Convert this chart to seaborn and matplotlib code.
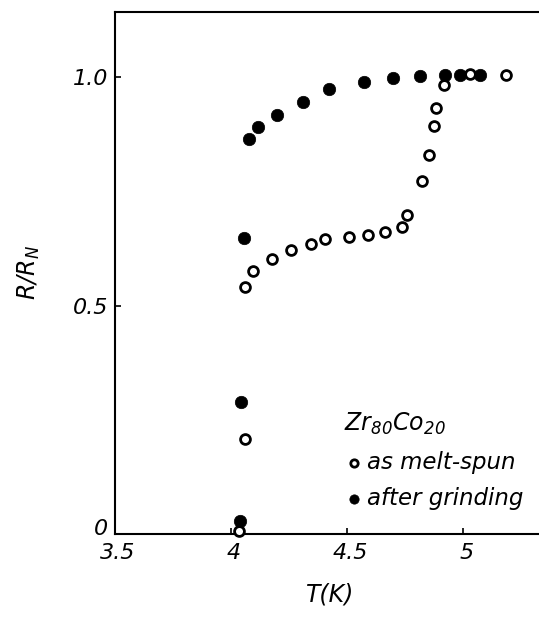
import matplotlib
matplotlib.use("Agg")
import matplotlib.pyplot as plt
import matplotlib.transforms as mtransforms
import seaborn as sns
import pandas as pd

# as melt-spun (open circles)
T_melt = [4.036, 4.058, 4.062, 4.094, 4.175, 4.257, 4.346, 4.404, 4.507, 4.588,
          4.664, 4.735, 4.758, 4.823, 4.854, 4.875, 4.883, 4.916, 5.029, 5.186]
R_melt = [0.007, 0.209, 0.540, 0.575, 0.602, 0.622, 0.634, 0.645, 0.650, 0.654,
          0.661, 0.672, 0.698, 0.774, 0.829, 0.894, 0.932, 0.984, 1.008, 1.004]

# after grinding (filled circles)
T_grind = [4.040, 4.043, 4.055, 4.077, 4.116, 4.200, 4.309, 4.420, 4.574, 4.699,
           4.816, 4.923, 4.987, 5.074]
R_grind = [0.028, 0.290, 0.648, 0.866, 0.892, 0.917, 0.947, 0.974, 0.990, 0.998,
           1.002, 1.006, 1.006, 1.006]

x_ticks = [3.5, 4.0, 4.5, 5.0]
x_ticklabels = ["3.5", "4", "4.5", "5"]
y_ticks = [0.0, 0.5, 1.0]
y_ticklabels = ["0", "0.5", "1.0"]

sns.set_style("white")
plt.rcParams["font.family"] = ["DejaVu Sans"]
plt.rcParams["font.style"] = "italic"
plt.rcParams["mathtext.fontset"] = "dejavusans"
plt.rcParams["mathtext.default"] = "it"
plt.rcParams["text.color"] = "black"
plt.rcParams["axes.labelcolor"] = "black"

df_melt = pd.DataFrame({"T": T_melt, "R": R_melt})
df_grind = pd.DataFrame({"T": T_grind, "R": R_grind})

fig = plt.figure(figsize=(5.39, 6.17), dpi=100)
ax = fig.add_axes([115 / 539, 83 / 617, 1 - 115 / 539 + 0.01, (534 - 12) / 617])

sns.scatterplot(data=df_melt, x="T", y="R", ax=ax, marker="o", s=50,
                facecolor="white", edgecolor="black", linewidth=2.0,
                label="as melt-spun", zorder=3, clip_on=False)
sns.scatterplot(data=df_grind, x="T", y="R", ax=ax, marker="o", s=80,
                color="black", edgecolor="black", linewidth=0.5,
                label="after grinding", zorder=2, clip_on=False)

ax.set_xlim(3.5, 5.35)
ax.set_ylim(0, 1.143)
ax.set_xticks(x_ticks)
ax.set_xticklabels(x_ticklabels)
ax.set_yticks(y_ticks)
ax.set_yticklabels(y_ticklabels)
ax.tick_params(direction="in", length=4, width=1.2, labelsize=16, colors="black",
               labelcolor="black", bottom=True, left=True, pad=5)
for lab in ax.get_xticklabels() + ax.get_yticklabels():
    lab.set_fontstyle("italic")
# nudge the "0" label up and x labels slightly down as in the reference
ylabs = ax.get_yticklabels()
ylabs[0].set_transform(ylabs[0].get_transform() +
                       mtransforms.ScaledTranslation(0, 7 / 100, fig.dpi_scale_trans))
for lab in ax.get_xticklabels():
    lab.set_transform(lab.get_transform() +
                      mtransforms.ScaledTranslation(0.03, -2 / 100, fig.dpi_scale_trans))
for side in ["left", "bottom", "top"]:
    ax.spines[side].set_linewidth(1.5)
    ax.spines[side].set_color("black")
ax.spines["right"].set_visible(False)

ax.set_xlabel("T(K)", fontsize=17, fontstyle="italic", labelpad=14)
ax.set_ylabel("R/R$_N$", fontsize=17, fontstyle="italic", labelpad=22)

leg = ax.legend(loc="upper left", bbox_to_anchor=(0.495, 0.267), frameon=False,
                fontsize=16.5, title="Zr$_{80}$Co$_{20}$", title_fontsize=17,
                handletextpad=0.1, labelspacing=0.6, markerscale=0.75,
                handlelength=0.9, borderpad=0.2)
leg._legend_box.align = "left"
for t in leg.get_texts():
    t.set_fontstyle("italic")
    t.set_color("black")
leg.get_title().set_color("black")

fig.savefig("out.png", dpi=100)
